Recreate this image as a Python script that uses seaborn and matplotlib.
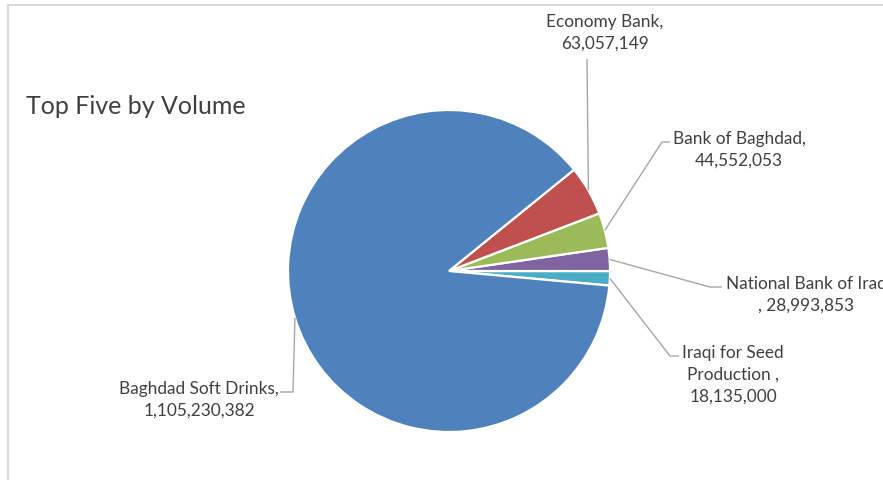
import matplotlib
matplotlib.use("Agg")
import matplotlib.pyplot as plt
import seaborn as sns
import numpy as np

# ---- data ----
names = ["Iraqi for Seed\nProduction ,", "National Bank of Iraq\n,", "Bank of Baghdad,",
         "Economy Bank,", "Baghdad Soft Drinks,"]
values = [18135000, 28993853, 44552053, 63057149, 1105230382]
colors = ["#4BACC6", "#8064A2", "#9BBB59", "#C0504D", "#4F81BD"]
title = "Top Five by Volume"

sns.set_style("white")
plt.rcParams["font.family"] = ["Lato", "DejaVu Sans"]

W, H = 883, 481
fig = plt.figure(figsize=(W / 100, H / 100), dpi=100)
ax = fig.add_axes([0, 0, 1, 1])

cx, cy, r = 449, H - 272, 161
start = -5.2
wedges, _ = ax.pie(values, colors=colors, startangle=start, counterclock=True,
                   center=(cx, cy), radius=r, frame=True,
                   wedgeprops=dict(edgecolor="white", linewidth=1.6))
ax.set_xlim(0, W)
ax.set_ylim(0, H)
ax.axis("off")

# label layout: (bend point, end point, text center) in image pixel coords
layout = [
    ((670, 357), (679, 357), (733, 375)),
    ((710, 288), (722, 288), (806, 294.5)),
    ((662, 143), (670, 143), (739, 150)),
    ((587, 60), (587, 60), (605, 32.5)),
    ((293, 393), (280, 393), (199, 400)),
]
lc = "#A6A6A6"
for w, v, nm, (bend, end, tc) in zip(wedges, values, names, layout):
    mid = np.deg2rad((w.theta1 + w.theta2) / 2)
    sx, sy = cx + r * np.cos(mid), cy + r * np.sin(mid)
    ax.plot([sx, bend[0], end[0]], [sy, H - bend[1], H - end[1]],
            color=lc, lw=1.0, solid_capstyle="butt")
    if nm.endswith("\n,"):
        txt = nm[:-2] + "\n, " + f"{v:,}"
    else:
        txt = nm + "\n" + f"{v:,}"
    ax.text(tc[0], H - tc[1], txt, ha="center", va="center", fontsize=12.4,
            color="#404040", linespacing=1.45, multialignment="center")

fig.text(26 / W, 1 - 107 / H, title, ha="left", va="center", fontsize=18,
         color="#404040")

# chart frame
frame_c = "#D9D9D9"
fig.add_artist(plt.Line2D([8 / W, 1], [1 - 5.5 / H, 1 - 5.5 / H], color=frame_c, lw=1.5,
                          transform=fig.transFigure))
fig.add_artist(plt.Line2D([8 / W, 8 / W], [0, 1 - 5.5 / H], color=frame_c, lw=1.5,
                          transform=fig.transFigure))

fig.savefig("out.png", dpi=100)
